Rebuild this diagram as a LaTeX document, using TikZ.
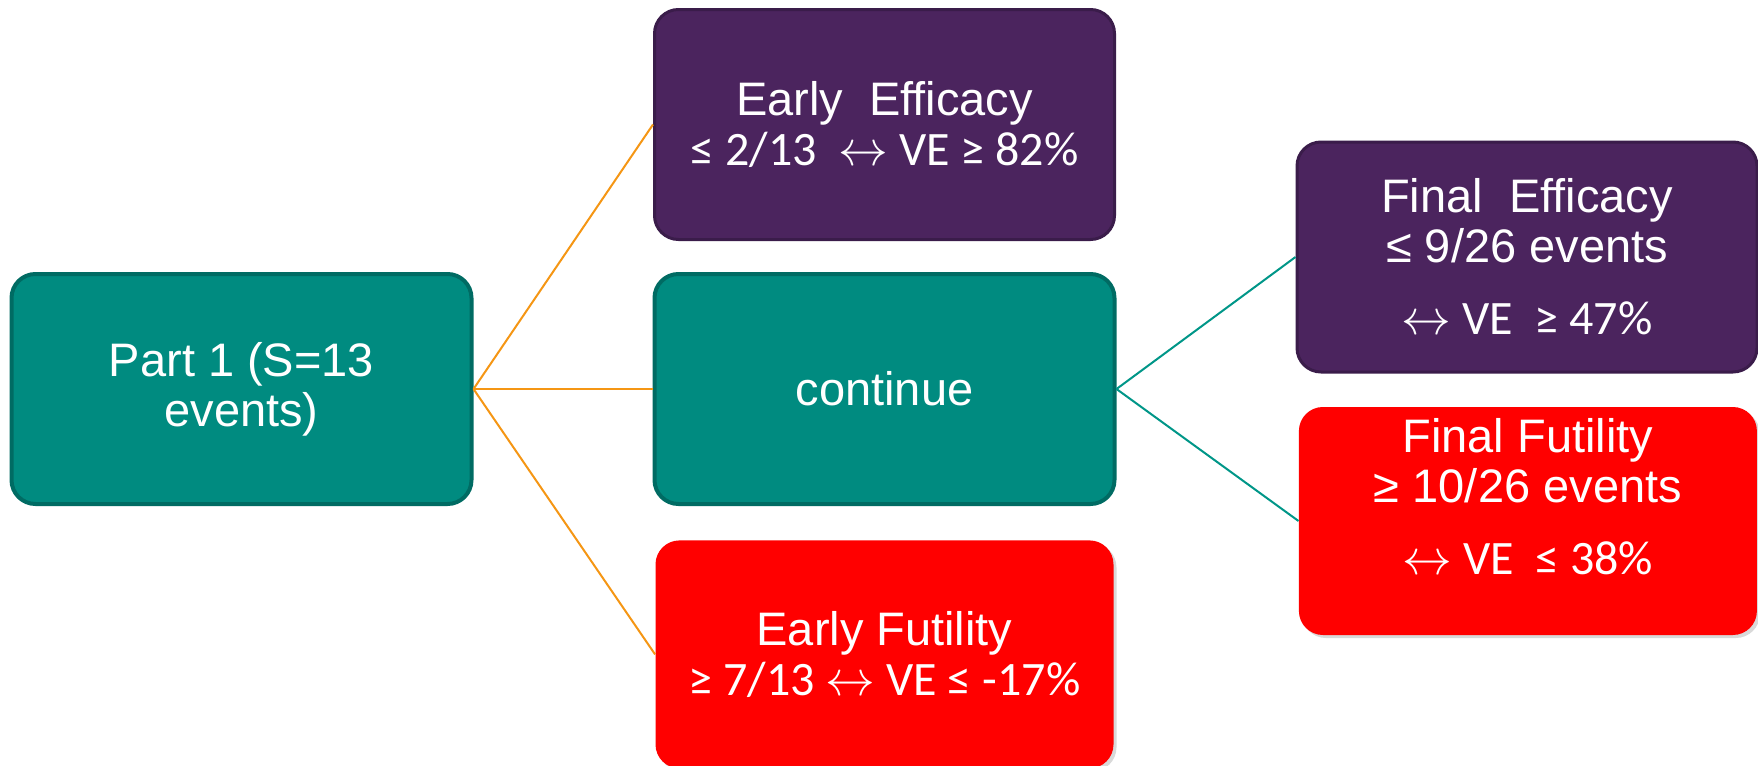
\documentclass[tikz,border=0pt]{standalone}
\usepackage{fontspec}
\setmainfont{Liberation Sans}
\newfontfamily\calfont{Carlito}
\usepackage{tikz}
\usetikzlibrary{positioning, shadows}
\definecolor{tealfill}{RGB}{0, 139, 128}
\definecolor{tealedge}{RGB}{0, 107, 99}
\definecolor{purplefill}{RGB}{75, 36, 94}
\definecolor{purpleedge}{RGB}{58, 28, 74}
\definecolor{orangeline}{RGB}{245, 150, 20}
\definecolor{tealline}{RGB}{0, 150, 136}
\newcommand{\calline}{\calfont\fontsize{24}{25}\selectfont}
\newcommand{\twoway}{$\leftrightarrow$}

\begin{document}
\begin{tikzpicture}[
    box/.style={rounded corners=12pt, minimum width=230pt, minimum height=115pt, text=white, align=center, font=\fontsize{23.5}{25}\selectfont},
    tealbox/.style={box, draw=tealedge, line width=2pt, fill=tealfill},
    purplebox/.style={box, draw=purpleedge, line width=1.5pt, fill=purplefill},
    redbox/.style={box, fill=red, minimum width=229pt, minimum height=114pt, drop shadow={opacity=0.3, shadow xshift=1.5pt, shadow yshift=-1.5pt}},
    link/.style={line width=1pt}
]
    \useasboundingbox (0,0) rectangle (879pt,-383pt);

    % Nodes - left
    \node[tealbox] (part) at (120.75pt,-194.5pt) {Part 1 (S=13\\events)};

    % Nodes - middle column
    \node[tealbox, right=89.5pt of part] (cont) {continue};
    \node[purplebox, above=15.5pt of cont] (earlyeff) {Early\ \ Efficacy\\{\calline ≤ 2/13\ \ \twoway{} VE ≥ 82\%}};
    \node[redbox, below=17pt of cont] (earlyfut) {Early Futility\\{\calline ≥ 7/13 \twoway{} VE ≤ -17\%}};

    % Nodes - right column
    \node[purplebox, right=89.5pt of cont, yshift=66pt] (finaleff) {Final\ \ Efficacy\\≤ 9/26 events\\[11pt]{\calline \twoway{} VE\ \ ≥ 47\%}};
    \node[redbox, right=91pt of cont, yshift=-66pt] (finalfut) {Final Futility\\≥ 10/26 events\\[11pt]{\calline \twoway{} VE\ \ ≤ 38\%}\\ \mbox{}};

    % Lines
    \draw[link, orangeline] (part.east) -- (earlyeff.west);
    \draw[link, orangeline] (part.east) -- (cont.west);
    \draw[link, orangeline] (part.east) -- (earlyfut.west);
    \draw[link, tealline] (cont.east) -- (finaleff.west);
    \draw[link, tealline] (cont.east) -- (finalfut.west);
\end{tikzpicture}
\end{document}
